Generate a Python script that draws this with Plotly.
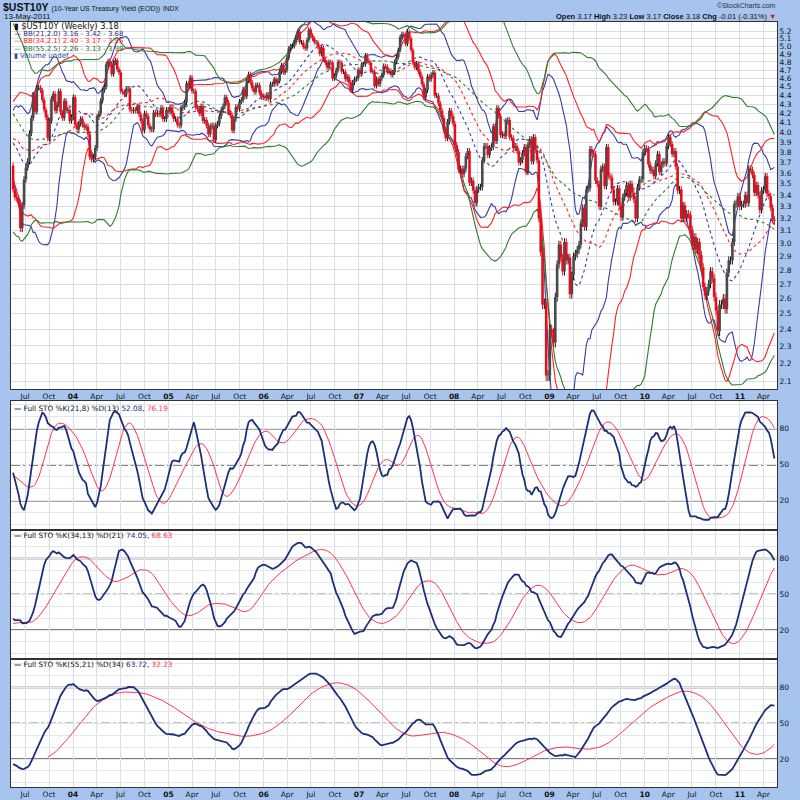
import numpy as np
import pandas as pd
import plotly.graph_objects as go

# ---------------- data ----------------
# weekly closes before the visible window (Sep 2001 - May 2003), only used as indicator warm-up
history_closes = [4.81, 4.70, 4.70, 4.59,
                  4.51, 4.63, 4.62, 4.47,
                  4.30, 4.43, 4.92, 4.98, 4.75,
                  5.12, 5.10, 5.12, 5.17,
                  5.08, 4.83, 4.94, 5.06,
                  4.96, 4.86, 4.88, 4.84,
                  5.00, 5.30, 5.33, 5.43, 5.40,
                  5.18, 5.14, 5.16, 5.08,
                  5.08, 5.15, 5.22, 5.09, 5.04,
                  5.04, 4.84, 4.82, 4.80,
                  4.89, 4.67, 4.55, 4.50,
                  4.24, 4.21, 4.34, 4.33, 4.14,
                  4.14, 4.02, 3.79, 3.71,
                  3.67, 3.89, 4.25, 4.19,
                  3.92, 3.81, 4.03, 4.18, 4.22,
                  4.09, 4.10, 4.12, 3.86,
                  4.04, 4.16, 4.08, 3.96, 3.99,
                  3.98, 3.91, 3.88, 3.69,
                  3.68, 3.61, 4.07, 3.91,
                  3.92, 3.95, 4.02, 3.92,
                  3.93, 3.67]

closes_2003 = [3.45, 3.38, 3.37, 3.33, 3.12, 3.31, 3.54, 3.65, 3.71, 3.99, 4.15,
               4.41, 4.22, 4.49, 4.49, 4.46, 4.35, 4.24, 4.16, 3.94, 4.12, 4.36,
               4.42, 4.23, 4.30, 4.45, 4.21, 4.15, 4.34, 4.23, 4.24, 4.12, 4.16]
closes_2004 = [4.38, 4.08, 4.03, 4.09, 4.14, 4.08, 4.05, 4.06, 3.98, 3.75, 3.73,
               3.75, 3.84, 4.16, 4.20, 4.34, 4.46, 4.50, 4.77, 4.81, 4.77, 4.65,
               4.79, 4.82, 4.71, 4.67, 4.45, 4.44, 4.41, 4.48, 4.48, 4.24, 4.23,
               4.24, 4.23, 4.28, 4.19, 4.12, 4.02, 4.20, 4.17, 4.07, 4.03, 4.03,
               4.21, 4.19, 4.20, 4.19, 4.26, 4.14, 4.14, 4.24, 4.22]
closes_2005 = [4.27, 4.20, 4.14, 4.14, 4.08, 4.07, 4.26, 4.27, 4.32, 4.54, 4.51,
               4.61, 4.45, 4.45, 4.27, 4.25, 4.20, 4.28, 4.12, 4.13, 4.07, 3.98,
               4.06, 4.07, 3.92, 4.07, 4.09, 4.17, 4.24, 4.28, 4.38, 4.32, 4.21,
               4.18, 4.02, 4.14, 4.27, 4.25, 4.33, 4.35, 4.47, 4.39, 4.57, 4.65,
               4.55, 4.48, 4.44, 4.52, 4.52, 4.43, 4.38, 4.39]
closes_2006 = [4.37, 4.41, 4.36, 4.53, 4.53, 4.59, 4.54, 4.57, 4.68, 4.76, 4.67,
               4.70, 4.85, 4.97, 5.00, 5.00, 5.05, 5.11, 5.19, 5.05, 5.05, 4.99,
               4.97, 5.08, 5.22, 5.14, 5.10, 5.05, 5.05, 4.99, 4.90, 4.98, 4.83,
               4.79, 4.73, 4.80, 4.79, 4.60, 4.63, 4.70, 4.80, 4.79, 4.68, 4.68,
               4.59, 4.62, 4.55, 4.46, 4.55, 4.59, 4.60, 4.70]
closes_2007 = [4.65, 4.77, 4.77, 4.88, 4.81, 4.79, 4.69, 4.68, 4.51, 4.59, 4.53,
               4.60, 4.64, 4.75, 4.74, 4.68, 4.69, 4.64, 4.67, 4.80, 4.86, 4.95,
               5.12, 5.16, 5.14, 5.03, 5.19, 5.10, 4.95, 4.79, 4.73, 4.78, 4.68,
               4.62, 4.53, 4.38, 4.46, 4.62, 4.59, 4.64, 4.67, 4.40, 4.40, 4.31,
               4.23, 4.15, 4.02, 3.94, 4.11, 4.23, 4.17, 4.09]
closes_2008 = [3.87, 3.80, 3.63, 3.64, 3.59, 3.64, 3.76, 3.81, 3.51, 3.53, 3.44,
               3.33, 3.45, 3.47, 3.47, 3.72, 3.86, 3.86, 3.77, 3.84, 3.85, 4.06,
               3.91, 4.26, 4.17, 3.97, 3.98, 3.96, 4.12, 4.13, 3.95, 3.94, 3.84,
               3.86, 3.81, 3.70, 3.72, 3.79, 3.85, 3.61, 3.87, 3.93, 3.71, 3.95,
               3.82, 3.72, 3.20, 2.93, 2.56, 2.57, 2.13, 2.13]
closes_2009 = [2.40, 2.38, 2.32, 2.61, 2.84, 2.99, 2.89, 2.79, 3.01, 2.87, 2.89,
               2.63, 2.76, 2.90, 2.92, 2.95, 2.99, 3.16, 3.29, 3.13, 3.45, 3.46,
               3.83, 3.79, 3.78, 3.53, 3.50, 3.30, 3.64, 3.66, 3.48, 3.85, 3.57,
               3.56, 3.45, 3.34, 3.34, 3.46, 3.31, 3.21, 3.38, 3.42, 3.49, 3.38,
               3.50, 3.42, 3.36, 3.20, 3.47, 3.54, 3.54, 3.80]
closes_2010 = [3.84, 3.83, 3.68, 3.62, 3.63, 3.57, 3.69, 3.78, 3.61, 3.68, 3.71,
               3.69, 3.86, 3.95, 3.88, 3.78, 3.81, 3.66, 3.44, 3.45, 3.20, 3.31,
               3.20, 3.24, 3.23, 3.11, 2.98, 3.05, 2.95, 3.01, 2.91, 2.82, 2.68,
               2.62, 2.65, 2.70, 2.79, 2.74, 2.61, 2.52, 2.39, 2.56, 2.56, 2.60,
               2.53, 2.78, 2.87, 2.87, 3.01, 3.32, 3.33, 3.39, 3.30]
closes_2011 = [3.32, 3.32, 3.40, 3.33, 3.64, 3.63, 3.58, 3.42, 3.49, 3.40, 3.27,
               3.44, 3.45, 3.57, 3.41, 3.39, 3.29, 3.19, 3.18]

month_ticks = pd.date_range("2003-07-01", "2011-04-01", freq="QS")
price_ticks = [round(2.1 + 0.1 * i, 1) for i in range(32)]
sto_ticks = [20, 50, 80]

WICK = 0.03  # candle wick length (style)

# ---------------- series ----------------
visible = (closes_2003 + closes_2004 + closes_2005 + closes_2006 + closes_2007 +
           closes_2008 + closes_2009 + closes_2010 + closes_2011)
all_close = history_closes + visible
dates = pd.date_range(end="2011-05-13", periods=len(all_close), freq="7D")
c = pd.Series(all_close, index=dates, dtype=float)
o = c.shift(1)
o.iloc[0] = c.iloc[0]
h = np.maximum(o, c) + WICK
l = np.minimum(o, c) - WICK

def bollinger(n, k):
    m = c.rolling(n).mean()
    sd = c.rolling(n).std(ddof=0)
    return m + k * sd, m, m - k * sd

def full_sto(n, sm, d):
    ll = l.rolling(n).min()
    hh = h.rolling(n).max()
    fk = 100 * (c - ll) / (hh - ll)
    k = fk.rolling(sm).mean()
    return k, k.rolling(d).mean()

vis = dates >= pd.Timestamp("2003-05-16")
dv = dates[vis]

fig = go.Figure()

# Bollinger bands
bb_specs = [((21, 2.0), "#3b3ba6"), ((34, 2.1), "#ff2222"), ((55, 2.5), "#2e7d2e")]
for (n, k), col in bb_specs:
    up, mid, lo = bollinger(n, k)
    for ser, dash in ((up, "solid"), (mid, "dot"), (lo, "solid")):
        fig.add_trace(go.Scatter(x=dv, y=ser[vis], mode="lines",
                                 line=dict(color=col, width=1.1, dash=dash),
                                 xaxis="x", yaxis="y", hoverinfo="skip"))

# candles
def seg(idx, y0, y1):
    xs, ys = [], []
    for d in idx:
        xs += [d, d, None]
        ys += [y0[d], y1[d], None]
    return xs, ys

cv, ov, hv, lv = c[vis], o[vis], h[vis], l[vis]
up_idx = cv.index[cv >= ov]
dn_idx = cv.index[cv < ov]
for idx, col, bcol in ((up_idx, "#111111", "#4a4a4a"), (dn_idx, "#e0101e", "#e0101e")):
    xs, ys = seg(idx, lv, hv)
    fig.add_trace(go.Scatter(x=xs, y=ys, mode="lines", line=dict(color=col, width=1),
                             xaxis="x", yaxis="y", hoverinfo="skip"))
    xs, ys = seg(idx, ov, cv)
    fig.add_trace(go.Scatter(x=xs, y=ys, mode="lines", line=dict(color=bcol, width=2.6),
                             xaxis="x", yaxis="y", hoverinfo="skip"))

# stochastics
sto_specs = [((21, 8, 13), "2"), ((34, 13, 21), "3"), ((55, 21, 34), "4")]
for (n, sm, d), ax in sto_specs:
    kk, dd = full_sto(n, sm, d)
    fig.add_trace(go.Scatter(x=dv, y=dd[vis], mode="lines", line=dict(color="#ff3355", width=1),
                             xaxis="x" + ax, yaxis="y" + ax, hoverinfo="skip"))
    fig.add_trace(go.Scatter(x=dv, y=kk[vis], mode="lines", line=dict(color="#1c2f78", width=1.8),
                             xaxis="x" + ax, yaxis="y" + ax, hoverinfo="skip"))

# ---------------- layout ----------------
W = H = 800
XD = [11 / W, 777 / W]
def ydom(top, bot):
    return [1 - bot / H, 1 - top / H]

ticktext = []
for t in month_ticks:
    ticktext.append("<b>%02d</b>" % (t.year % 100) if t.month == 1 else t.strftime("%b"))

GRID = "#d9dde6"
FONT = "DejaVu Sans"
xr = ["2003-05-08", "2011-05-23"]
common_x = dict(type="date", range=xr, domain=XD, tickvals=list(month_ticks), ticktext=ticktext,
                showgrid=True, gridcolor=GRID, gridwidth=1, ticks="", ticklen=0, zeroline=False,
                showline=True, linecolor="#333", linewidth=1, mirror=True,
                tickfont=dict(family=FONT, size=7.5, color="#111"))

layout = dict(width=W, height=H, margin=dict(l=0, r=0, t=0, b=0),
              paper_bgcolor="#a6c4ee", plot_bgcolor="white", showlegend=False,
              font=dict(family=FONT, size=9, color="#111"))
layout["xaxis"] = dict(common_x, anchor="y")
layout["xaxis2"] = dict(common_x, anchor="y2", matches="x", showticklabels=False)
layout["xaxis3"] = dict(common_x, anchor="y3", matches="x", showticklabels=False)
layout["xaxis4"] = dict(common_x, anchor="y4", matches="x")

layout["yaxis"] = dict(type="log", domain=ydom(22, 389), anchor="x",
                       range=[np.log10(2.057), np.log10(5.323)], side="right",
                       tickvals=price_ticks, ticktext=["%.1f" % v for v in price_ticks],
                       showgrid=True, gridcolor=GRID, ticks="", ticklen=0, zeroline=False,
                       showline=True, linecolor="#333", mirror=True,
                       tickfont=dict(family=FONT, size=7.5, color="#111"))
panel_px = {"2": (401, 529), "3": (531, 658), "4": (660, 787)}
for ax, (t, b) in panel_px.items():
    layout["yaxis" + ax] = dict(domain=ydom(t, b), anchor="x" + ax, range=[-3.5, 103.2],
                                side="right", tickvals=list(range(0, 101, 10)),
                                ticktext=[str(v) if v in sto_ticks else "" for v in range(0, 101, 10)],
                                showgrid=True, gridcolor="#e3e6ec", ticks="", ticklen=0, zeroline=False,
                                showline=True, linecolor="#333", mirror=True,
                                tickfont=dict(family=FONT, size=7.5, color="#111"))
fig.update_layout(**layout)

# reference lines in stochastic panels
for ax in ("2", "3", "4"):
    for lvl, dash, col, wd in ((80, "solid", "#555", 1.5), (20, "solid", "#555", 1.5), (50, "dashdot", "#111", 1.2)):
        fig.add_shape(type="line", xref="x%s domain" % ax, yref="y" + ax, x0=0, x1=1,
                      y0=lvl, y1=lvl, line=dict(color=col, width=wd, dash=dash), layer="below")

def ann(x, y, text, size=9, anchor="left", color="#111", family=FONT):
    fig.add_annotation(x=x / W, y=1 - y / H, xref="paper", yref="paper", text=text,
                       showarrow=False, xanchor=anchor, yanchor="middle",
                       font=dict(size=size, color=color, family=family))

# header
ann(1, 7, "<b>$UST10Y</b> <span style='font-size:7px'>(10-Year US Treasury Yield (EOD))</span>"
          " <span style='font-size:6.5px'>INDX</span>", size=10.5, family="Liberation Sans")
ann(2, 17, "13-May-2011", size=8, family="Liberation Sans")
ann(778, 6, "©StockCharts.com", size=7, anchor="right", color="#333", family="Liberation Sans")
ann(778, 16, "<b>Open</b> 3.17 <b>High</b> 3.23 <b>Low</b> 3.17 <b>Close</b> 3.18 "
             "<b>Chg</b> -0.01 (-0.31%) <span style='color:#e0101e'>▼</span>",
    size=7.5, anchor="right", family="Liberation Sans")

# main legend
LS = 7
ann(12, 26, "<b>▮</b> $UST10Y (Weekly) 3.18", size=8.3)
ann(12, 33.5, "— BB(21,2.0) 3.16 - 3.42 - 3.68", size=LS, color="#2a2a8c")
ann(12, 41, "— BB(34,2.1) 2.40 - 3.17 - 3.95", size=LS, color="#ff2222")
ann(12, 48.5, "— BB(55,2.5) 2.26 - 3.13 - 3.99", size=LS, color="#2e6e2e")
ann(12, 56, "▮ Volume undef", size=LS, color="#2a4aa8")

# stochastic labels
sto_labels = [(408, "Full STO %K(21,8) %D(13)", "52.08", "76.19"),
              (535, "Full STO %K(34,13) %D(21)", "74.05", "68.63"),
              (664, "Full STO %K(55,21) %D(34)", "63.72", "32.23")]
for y, txt, kv, dv_ in sto_labels:
    ann(12, y, "<span style='color:#1c2f78'><b>—</b></span> %s <span style='color:#1c2f78'>%s</span>, "
               "<span style='color:#ff3355'>%s</span>" % (txt, kv, dv_), size=7.3)

fig.write_html("out.html", config={"displayModeBar": False},
               post_script="document.body.style.margin='0';document.body.style.padding='0';"
                           "document.body.style.overflow='hidden';")
